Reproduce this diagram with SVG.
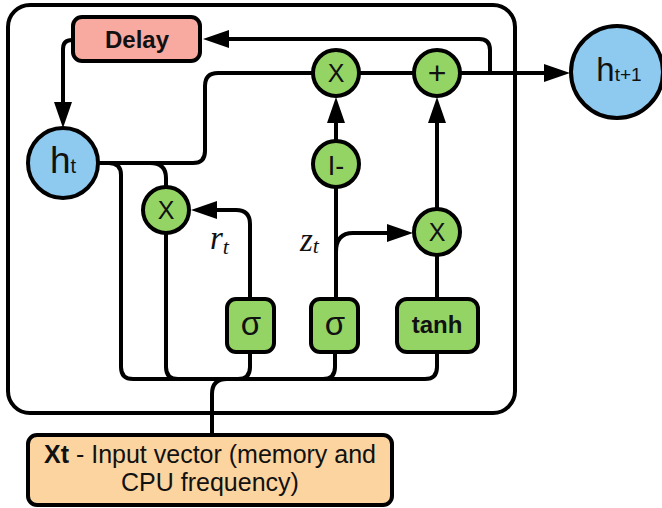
<svg xmlns="http://www.w3.org/2000/svg" width="662" height="508" viewBox="0 0 662 508">
<style>
.ln{fill:none;stroke:#000;stroke-width:4;stroke-linejoin:round}
.arr{marker-end:url(#ah)}
.node{stroke:#000;stroke-width:4}
.green{fill:#94d465}
.blue{fill:#8ec9ef}
.sans{font-family:"Liberation Sans",Arial,sans-serif;text-anchor:middle;fill:#111}
.bold{font-weight:bold}
.ital{font-family:"Liberation Serif","Times New Roman",serif;font-style:italic;fill:#111}
</style>
<defs>
<marker id="ah" markerUnits="userSpaceOnUse" viewBox="0 0 26 18" refX="6" refY="9" markerWidth="26" markerHeight="18" orient="auto">
<path d="M0,0 L26,9 L0,18 z" fill="#000"/>
</marker>
</defs>
<rect id="cell" x="8" y="5" width="507" height="408" rx="22" fill="none" stroke="#000" stroke-width="4"/>
<g id="connectors">
<path class="ln arr" d="M73,40 H72 Q63,40 63,49 V108"/>
<path class="ln arr" d="M490,73 V50 Q490,39 479,39 H223"/>
<path class="ln arr" d="M99,163 H193 Q205,163 205,151 V86 Q205,73 218,73 H550"/>
<path class="ln" d="M437,352 V367 Q437,379 425,379 H133 Q121,379 121,367 V175 Q121,163 109,163 H99"/>
<path class="ln" d="M335,352 V367 Q335,379 323,379"/>
<path class="ln" d="M250,352 V367 Q250,379 238,379"/>
<path class="ln" d="M166,233 V367 Q166,379 178,379"/>
<path class="ln" d="M150,163 Q166,163 166,178 V188"/>
<path class="ln" d="M212,435 V394 Q212,379 227,379"/>
<path class="ln arr" d="M250,299 V224 Q250,210 236,210 H211"/>
<path class="ln arr" d="M336,299 V117"/>
<path class="ln arr" d="M336,252 Q336,233 353,233 H393"/>
<path class="ln arr" d="M437,299 V117"/>
</g>
<g id="delay">
<rect class="node" x="73" y="17" width="127" height="44" rx="9" fill="#f8a9a0"/>
<text class="sans bold" x="137" y="48" font-size="24">Delay</text>
</g>
<g id="h_t">
<circle class="node blue" cx="63" cy="163" r="35"/>
<text class="sans" x="63" y="173" font-size="37">h<tspan font-size="20">t</tspan></text>
</g>
<g id="h_t1">
<circle class="node blue" cx="617" cy="72" r="46"/>
<text class="sans" x="619" y="81" font-size="33">h<tspan font-size="19">t+1</tspan></text>
</g>
<g id="mul_top">
<circle class="node green" cx="336" cy="73" r="23"/>
<text class="sans" x="336" y="82" font-size="25">X</text>
</g>
<g id="add">
<circle class="node green" cx="437" cy="73" r="23"/>
<text class="sans" x="437" y="84" font-size="32">+</text>
</g>
<g id="one_minus">
<circle class="node green" cx="336" cy="164" r="23"/>
<text class="sans" x="336" y="175" font-size="27">I-</text>
</g>
<g id="mul_r">
<circle class="node green" cx="166" cy="210" r="23"/>
<text class="sans" x="166" y="219" font-size="25">X</text>
</g>
<g id="mul_z">
<circle class="node green" cx="437" cy="232" r="23"/>
<text class="sans" x="437" y="241" font-size="25">X</text>
</g>
<g id="sigma_r">
<rect class="node green" x="227" y="299" width="47" height="53" rx="9"/>
<text class="sans" x="251" y="335" font-size="33" fill="#333">σ</text>
</g>
<g id="sigma_z">
<rect class="node green" x="311" y="299" width="47" height="53" rx="9"/>
<text class="sans" x="335" y="335" font-size="33" fill="#333">σ</text>
</g>
<g id="tanh">
<rect class="node green" x="397" y="299" width="81" height="53" rx="10"/>
<text class="sans bold" x="437" y="333" font-size="24">tanh</text>
</g>
<g id="labels">
<text class="ital" x="210" y="249" font-size="33">r<tspan font-size="22" dy="5">t</tspan></text>
<text class="ital" x="300" y="251" font-size="33">z<tspan font-size="22" dy="2">t</tspan></text>
</g>
<g id="input">
<rect class="node" x="28" y="435" width="364" height="70" rx="9" fill="#fcd49f"/>
<text class="sans" x="210" y="463" font-size="25"><tspan font-weight="bold">Xt</tspan> - Input vector (memory and</text>
<text class="sans" x="210" y="491" font-size="25">CPU frequency)</text>
</g>
</svg>
